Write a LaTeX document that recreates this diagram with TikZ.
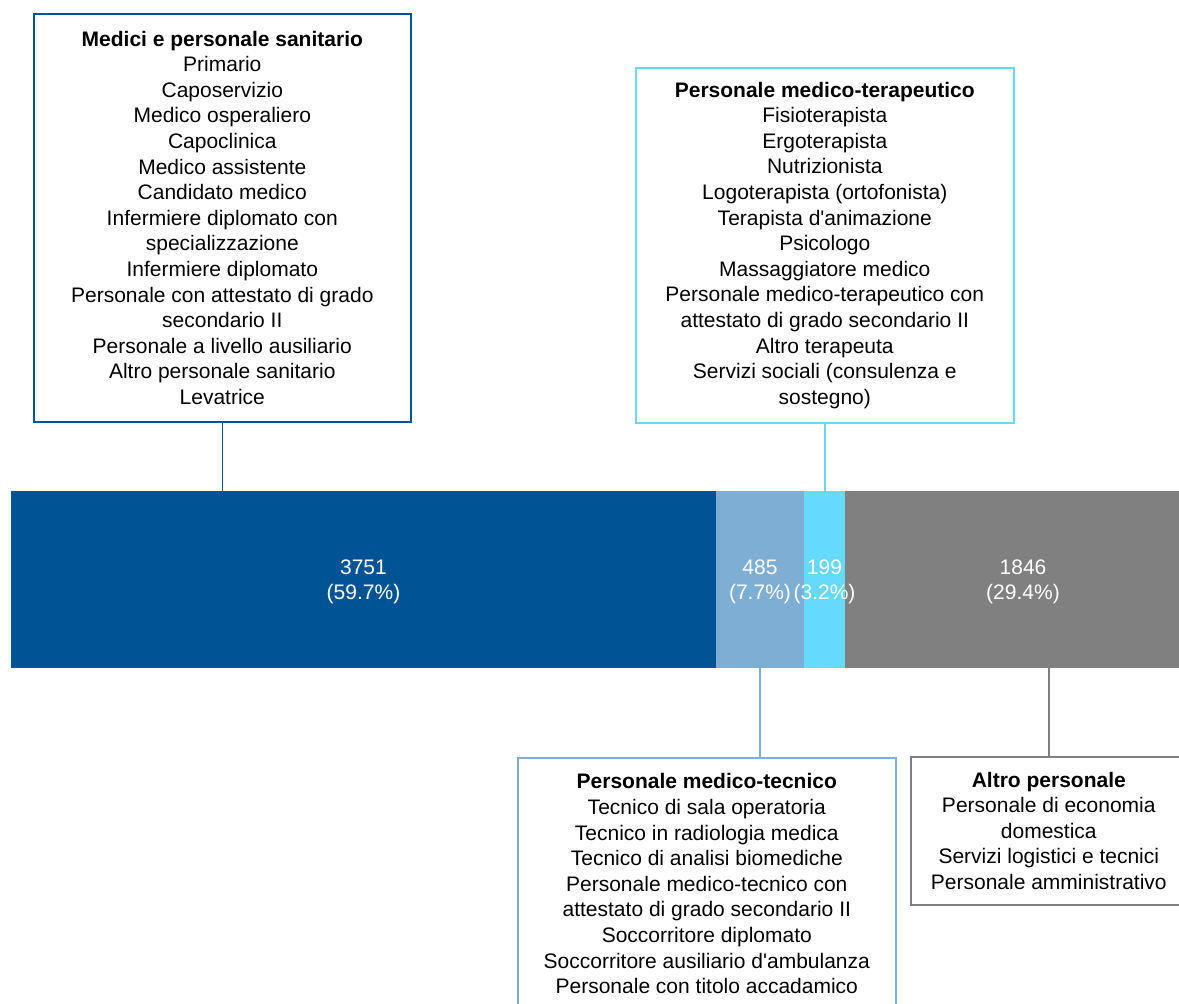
\documentclass[tikz,border=0pt]{standalone}
\usepackage{fontspec}
\setmainfont{Liberation Sans}
\definecolor{cdark}{RGB}{0,84,150}
\definecolor{clight}{RGB}{127,174,212}
\definecolor{ccyan}{RGB}{102,217,255}
\definecolor{cgray}{RGB}{128,128,128}
\tikzset{
  txt/.style={font=\fontsize{21}{25.6}\selectfont, align=center, text=black},
  catbox/.style={txt, draw=#1, line width=1.6pt, fill=white, inner sep=0pt, anchor=north west},
  seg/.style={fill=#1, draw=none, inner sep=0pt, minimum height=177, anchor=north west},
  barlabel/.style={font=\fontsize{21}{25}\selectfont, align=center, text=white},
  conn/.style={draw=#1, line width=1.6pt},
}
\begin{document}
\begin{tikzpicture}[x=1pt,y=-1pt]
\useasboundingbox (0,0) rectangle (1179,1004);
\clip (0,0) rectangle (1179,1004);
% bar segments
\node[seg=cdark, minimum width=705] (s1) at (11,491) {};
\node[seg=clight, minimum width=88] (s2) at (716,491) {};
\node[seg=ccyan, minimum width=41] (s3) at (804,491) {};
\node[seg=cgray, minimum width=356] (s4) at (845,491) {};
\node[barlabel] (l1) at (363.5,582) {3751\\(59.7\%)};
\node[barlabel] (l2) at (760,582) {485\\(7.7\%)};
\node[barlabel] (l3) at (824.5,582) {199\\(3.2\%)};
\node[barlabel] (l4) at (1023,582) {1846\\(29.4\%)};
% boxes
\node[catbox=cdark, minimum width=377, minimum height=408] (b1) at (33,13)
 {\textbf{Medici e personale sanitario}\\Primario\\Caposervizio\\Medico osperaliero\\Capoclinica\\Medico assistente\\Candidato medico\\Infermiere diplomato con\\specializzazione\\Infermiere diplomato\\Personale con attestato di grado\\secondario II\\Personale a livello ausiliario\\Altro personale sanitario\\Levatrice};
\node[catbox=ccyan, minimum width=378, minimum height=355] (b2) at (635,67)
 {\textbf{Personale medico-terapeutico}\\Fisioterapista\\Ergoterapista\\Nutrizionista\\Logoterapista (ortofonista)\\Terapista d\textquotesingle animazione\\Psicologo\\Massaggiatore medico\\Personale medico-terapeutico con\\attestato di grado secondario II\\Altro terapeuta\\Servizi sociali (consulenza e\\sostegno)};
\node[catbox=clight, minimum width=378, minimum height=252] (b3) at (517,757)
 {\textbf{Personale medico-tecnico}\\Tecnico di sala operatoria\\Tecnico in radiologia medica\\Tecnico di analisi biomediche\\Personale medico-tecnico con\\attestato di grado secondario II\\Soccorritore diplomato\\Soccorritore ausiliario d\textquotesingle ambulanza\\Personale con titolo accadamico};
\node[catbox=cgray, minimum width=276, minimum height=148] (b4) at (910,756)
 {\textbf{Altro personale}\\Personale di economia\\domestica\\Servizi logistici e tecnici\\Personale amministrativo};
% connectors
\draw[conn=cdark] (b1.south) -- (b1.south |- s1.north);
\draw[conn=ccyan] (b2.south) -- (b2.south |- s3.north);
\draw[conn=clight] (s2.south) -- (s2.south |- b3.north);
\draw[conn=cgray] (b4.north |- s4.south) -- (b4.north);
\end{tikzpicture}
\end{document}
